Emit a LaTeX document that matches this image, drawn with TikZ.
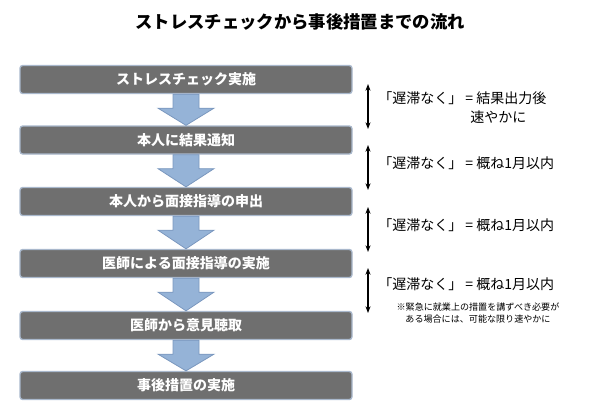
\documentclass[tikz,border=0pt]{standalone}
\usepackage{fontspec}
\setmainfont{Noto Sans CJK JP}
\usetikzlibrary{arrows.meta}
\definecolor{boxg}{HTML}{6F6F6F}
\definecolor{boxb}{HTML}{A9B8CC}
\definecolor{arrf}{HTML}{95B3D7}
\definecolor{arrb}{HTML}{7A97BE}
\begin{document}
\begin{tikzpicture}[x=0.75pt,y=-0.75pt,
 box/.style={draw=boxb,line width=1pt,fill=boxg,rounded corners=2pt,minimum width=249pt,minimum height=21pt,text=white,font=\bfseries\fontsize{10.5}{12}\selectfont,inner sep=0pt},
 flow/.style={draw=arrb,fill=arrf,line width=0.6pt},
 dbl/.style={{Stealth[length=5pt]}-{Stealth[length=5pt]},line width=1pt},
 note/.style={anchor=west,font=\fontsize{10.5}{12}\selectfont,align=left,inner sep=0pt}]
\useasboundingbox (0,0) rectangle (613,415);
\node[font=\bfseries\fontsize{13}{15}\selectfont] (title) at (300,22) {ストレスチェックから事後措置までの流れ};
\node[box] (b1) at (186,79.5) {ストレスチェック実施};
\node[box] (b2) at (186,140) {本人に結果通知};
\node[box] (b3) at (186,201.5) {本人から面接指導の申出};
\node[box] (b4) at (186,263.5) {医師による面接指導の実施};
\node[box] (b5) at (186,325.5) {医師から意見聴取};
\node[box] (b6) at (186,385.5) {事後措置の実施};
\foreach \a/\b in {b1/b2,b2/b3,b3/b4,b4/b5,b5/b6}{
 \draw[flow] ([xshift=-13*0.75pt]\a.south) -- ([xshift=-13*0.75pt,yshift=-14*0.75pt]\a.south)
   -- ([xshift=-28*0.75pt,yshift=-14*0.75pt]\a.south) -- (\b.north)
   -- ([xshift=28*0.75pt,yshift=-14*0.75pt]\a.south) -- ([xshift=13*0.75pt,yshift=-14*0.75pt]\a.south)
   -- ([xshift=13*0.75pt]\a.south) -- cycle;
}
\coordinate (d1a) at (368,84); \coordinate (d1b) at (368,129);
\coordinate (d2a) at (368,145); \coordinate (d2b) at (368,190);
\coordinate (d3a) at (368,207); \coordinate (d3b) at (368,252);
\coordinate (d4a) at (368,268); \coordinate (d4b) at (368,313);
\foreach \i in {1,2,3,4}{\draw[dbl] (d\i a) -- (d\i b);}
\node[note] (t1) at (378,98) {「遅滞なく」 = 結果出力後};
\node[note] (t1b) at (470,117) {速やかに};
\node[note] (t2) at (378,163) {「遅滞なく」 = 概ね1月以内};
\node[note] (t3) at (378,225) {「遅滞なく」 = 概ね1月以内};
\node[note] (t4) at (378,284) {「遅滞なく」 = 概ね1月以内};
\node[font=\fontsize{6.8}{8.5}\selectfont,align=center] (t5) at (478,313) {※緊急に就業上の措置を講ずべき必要が\\ある場合には、可能な限り速やかに};
\end{tikzpicture}
\end{document}
